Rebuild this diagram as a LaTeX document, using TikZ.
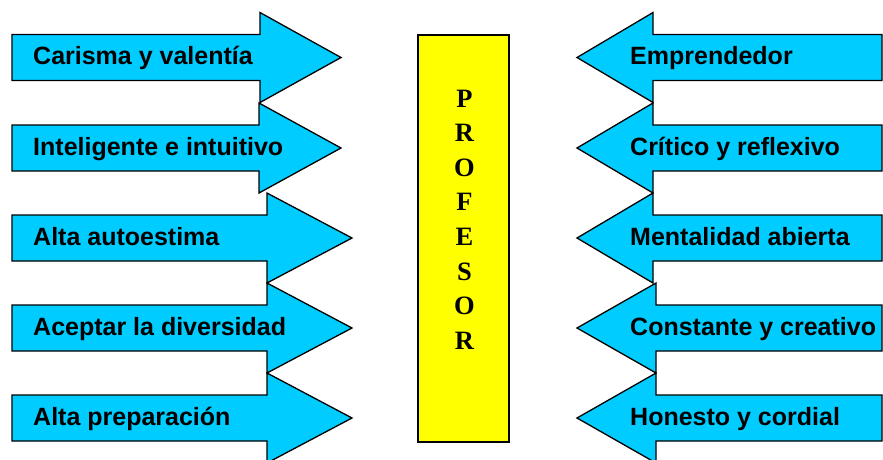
\documentclass[tikz,border=0pt]{standalone}
\usepackage{fontspec}
\setmainfont{Liberation Sans}
\newfontfamily\profserif{Liberation Serif}
\definecolor{arrowcyan}{RGB}{0,204,255}
\definecolor{profyellow}{RGB}{255,255,0}
\begin{document}
\begin{tikzpicture}[x=1pt,y=-1pt,
  arrowshape/.style={fill=arrowcyan,draw=black,line width=1.3pt,line join=miter},
  itemtext/.style={anchor=base west,inner sep=0pt,font=\fontsize{25}{28}\selectfont\bfseries},
  lettertext/.style={anchor=base,inner sep=0pt,font=\fontsize{26.5}{30}\selectfont\profserif\bfseries},
  profbox/.style={draw=black,fill=profyellow,line width=1.3pt,inner sep=0pt,minimum width=91pt,minimum height=407pt}]
\useasboundingbox (0,0) rectangle (883,459);
\clip (0,0) rectangle (883,459);
% left arrows
\foreach \cy/\hb/\tip/\t [count=\i] in {57.5/260/341/Carisma y valentía,148/259/341/Inteligente e intuitivo,238/267/352/Alta autoestima,328/267/352/Aceptar la diversidad,418/267/352/Alta preparación}{
  \draw[arrowshape] ({12},{\cy-23}) -- ({\hb},{\cy-23}) -- ({\hb},{\cy-45}) -- ({\tip},{\cy}) -- ({\hb},{\cy+45}) -- ({\hb},{\cy+23}) -- ({12},{\cy+23}) -- cycle;
  \node[itemtext] (L\i) at (33,{\cy+7}) {\t};
}
% right arrows
\foreach \cy/\hb/\t [count=\i] in {57.5/653/Emprendedor,148/653/Crítico y reflexivo,238/653/Mentalidad abierta,328/656/Constante y creativo,418/656/Honesto y cordial}{
  \draw[arrowshape] ({882},{\cy-23}) -- ({\hb},{\cy-23}) -- ({\hb},{\cy-45}) -- ({577},{\cy}) -- ({\hb},{\cy+45}) -- ({\hb},{\cy+23}) -- ({882},{\cy+23}) -- cycle;
  \node[itemtext] (R\i) at (630,{\cy+7}) {\t};
}
% central box
\node[profbox] (prof) at (463.5,238.5) {};
\foreach \L [count=\k] in {P,R,O,F,E,S,O,R}{
  \node[lettertext] (p\k) at (464.5,{107+(\k-1)*34.6}) {\L};
}
\end{tikzpicture}
\end{document}
